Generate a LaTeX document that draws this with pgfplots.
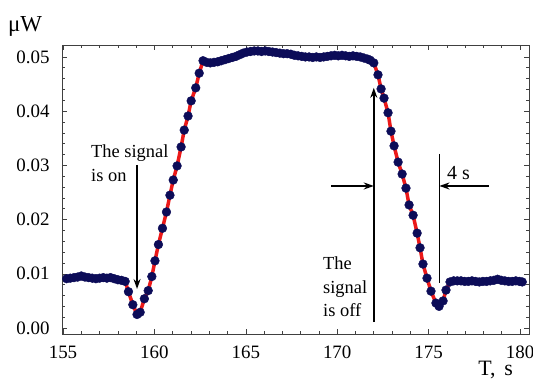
\documentclass[border=0pt]{standalone}
\usepackage{fontspec}
\setmainfont{Liberation Serif}
\usepackage{pgfplots}
\pgfplotsset{compat=1.18}
\usetikzlibrary{arrows.meta}
\definecolor{navy}{RGB}{12,12,88}
\definecolor{fitred}{RGB}{235,25,25}
\begin{document}
\begin{tikzpicture}
\begin{axis}[
  name=ax,
  width=467bp, height=289bp, scale only axis,
  xmin=154.945, xmax=180.49, ymin=-0.0011, ymax=0.0522,
  clip=false,
  axis line style={line width=0.6bp, black!75},
  tick align=inside, tick pos=both,
  major tick length=5bp, minor tick length=3bp,
  every tick/.style={black!75, line width=0.6bp},
  xtick={155,160,...,180}, minor x tick num=4,
  ytick={0,0.01,0.02,0.03,0.04,0.05}, minor y tick num=4,
  yticklabels={0.00,0.01,0.02,0.03,0.04,0.05},
  scaled y ticks=false,
  /pgf/number format/assume math mode=true,
  tick label style={font=\fontsize{19}{22}\selectfont},
  yticklabel style={xshift=-9bp},
  xticklabel style={yshift=-8bp},
  every axis x label/.style={at={(rel axis cs:1,0)}, anchor=base east, xshift=-16bp, yshift=-41bp, inner sep=0pt, font=\fontsize{22}{25}\selectfont},
  every axis y label/.style={at={(rel axis cs:0,1)}, anchor=base west, xshift=-54bp, yshift=13bp, inner sep=0pt, font=\fontsize{23}{26}\selectfont},
  xlabel={T,\hspace{0.4em}s}, ylabel={\symbol{"03BC}W},
]
% fitted red lines
\addplot[fitred, line width=3.5bp, no marks] coordinates {
(158.40,0.0086)(158.58,0.0067)(158.82,0.0043)(159.05,0.0025)(159.22,0.0029)(159.45,0.0054)(159.66,0.0069)(159.86,0.0095)(160.03,0.0124)(160.22,0.0154)(160.44,0.0184)(160.66,0.0214)(160.85,0.0245)(161.03,0.0273)(161.24,0.0299)(161.46,0.0334)(161.63,0.0365)(161.84,0.0391)(162.01,0.0419)(162.26,0.0443)(162.45,0.0470)(162.66,0.0493)
};
\addplot[fitred, line width=3.5bp, no marks] coordinates {
(171.80,0.0494)(172.00,0.0489)(172.23,0.0467)(172.40,0.0441)(172.56,0.0424)(172.78,0.0397)(172.94,0.0363)(173.11,0.0336)(173.33,0.0306)(173.55,0.0284)(173.76,0.0258)(173.93,0.0227)(174.15,0.0208)(174.37,0.0175)(174.53,0.0148)(174.69,0.0118)(174.91,0.0092)(175.13,0.0068)(175.40,0.0046)(175.57,0.0040)(175.79,0.0050)(175.95,0.0070)(176.17,0.0085)
};
% measured points
\addplot[only marks, mark=*, mark size=4.4bp, navy, mark options={fill=navy, draw=navy}] coordinates {
(155.2,0.0091)(155.4,0.0092)(155.6,0.0093)(155.8,0.0094)(156.0,0.0096)(156.2,0.0094)(156.4,0.0093)(156.6,0.0092)(156.8,0.0091)(157.0,0.0092)(157.2,0.0093)(157.4,0.0092)(157.6,0.0093)(157.8,0.0091)(158.0,0.0089)(158.2,0.0088)(158.4,0.0086)
(158.58,0.0067)(158.82,0.0043)(159.05,0.0025)(159.22,0.0029)(159.45,0.0054)(159.66,0.0069)(159.86,0.0095)(160.03,0.0124)(160.22,0.0154)(160.44,0.0184)(160.66,0.0214)(160.85,0.0245)(161.03,0.0273)(161.24,0.0299)(161.46,0.0334)(161.63,0.0365)(161.84,0.0391)(162.01,0.0419)(162.26,0.0443)(162.45,0.0470)(162.66,0.0493)
(162.86,0.0490)(163.06,0.0489)(163.26,0.0490)(163.46,0.0491)(163.66,0.0493)(163.86,0.0495)(164.06,0.0497)(164.26,0.0499)(164.46,0.0501)(164.66,0.0504)(164.86,0.0507)(165.06,0.0509)(165.26,0.0510)(165.46,0.0511)(165.66,0.0511)(165.86,0.0510)(166.06,0.0511)(166.26,0.0510)(166.46,0.0509)(166.66,0.0508)(166.86,0.0507)(167.06,0.0506)(167.26,0.0506)(167.46,0.0505)(167.66,0.0503)(167.86,0.0502)(168.06,0.0501)(168.26,0.0500)(168.46,0.0500)(168.66,0.0499)(168.86,0.0500)(169.06,0.0499)(169.26,0.0500)(169.46,0.0501)(169.66,0.0502)(169.86,0.0503)(170.06,0.0502)(170.26,0.0503)(170.46,0.0502)(170.66,0.0501)(170.86,0.0502)(171.06,0.0501)(171.26,0.0500)(171.46,0.0498)(171.66,0.0496)(171.80,0.0494)
(172.00,0.0489)(172.23,0.0467)(172.40,0.0441)(172.56,0.0424)(172.78,0.0397)(172.94,0.0363)(173.11,0.0336)(173.33,0.0306)(173.55,0.0284)(173.76,0.0258)(173.93,0.0227)(174.15,0.0208)(174.37,0.0175)(174.53,0.0148)(174.69,0.0118)(174.91,0.0092)(175.13,0.0068)(175.40,0.0046)(175.57,0.0040)(175.79,0.0050)(175.95,0.0070)(176.17,0.0085)
(176.37,0.0087)(176.57,0.0087)(176.77,0.0087)(176.97,0.0086)(177.17,0.0086)(177.37,0.0087)(177.57,0.0086)(177.77,0.0085)(177.97,0.0086)(178.17,0.0086)(178.37,0.0087)(178.57,0.0088)(178.77,0.0090)(178.97,0.0088)(179.17,0.0087)(179.37,0.0086)(179.57,0.0086)(179.77,0.0087)(179.97,0.0086)(180.12,0.0085)
};
% annotations
\draw[line width=1.6bp, -{Stealth[length=10bp,width=7bp]}] (axis cs:159.05,0.0301) -- (axis cs:159.05,0.0072);
\draw[line width=1.6bp, -{Stealth[length=10bp,width=7bp]}] (axis cs:172.0,0.0011) -- (axis cs:172.0,0.0443);
\draw[line width=1.6bp] (axis cs:175.59,0.0321) -- (axis cs:175.59,0.0083);
\draw[line width=1.6bp, -{Stealth[length=10bp,width=7bp]}] (axis cs:169.66,0.0262) -- (axis cs:172.0,0.0262);
\draw[line width=1.6bp, -{Stealth[length=10bp,width=7bp]}] (axis cs:178.30,0.0262) -- (axis cs:175.59,0.0262);
\node[anchor=west, inner sep=0pt, font=\fontsize{20}{22}\selectfont] at (axis cs:176.0,0.0286) {4 s};
\node[anchor=west, align=left, inner sep=0pt, font=\fontsize{18.5}{24}\selectfont] at (axis cs:156.53,0.0304) {The signal\\is on};
\node[anchor=west, align=left, inner sep=0pt, font=\fontsize{18.5}{23.5}\selectfont] at (axis cs:169.22,0.0076) {The\\signal\\is off};
\end{axis}
\pgfresetboundingbox
\path[use as bounding box] ([shift={(-62bp,-47bp)}]ax.south west) rectangle ([shift={(4bp,45bp)}]ax.north east);
\end{tikzpicture}
\end{document}
